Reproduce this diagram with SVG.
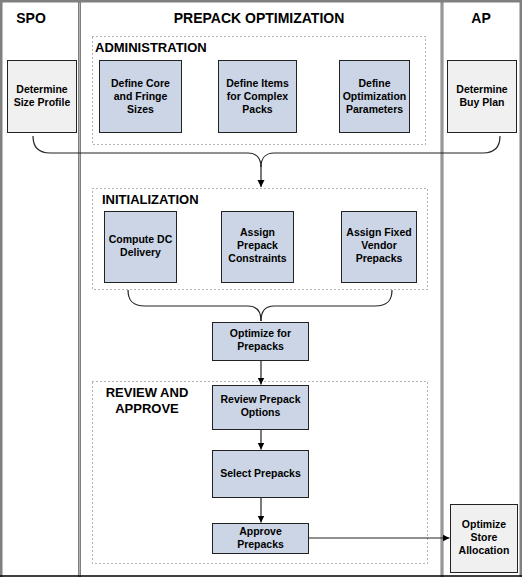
<svg xmlns="http://www.w3.org/2000/svg" width="522" height="577" viewBox="0 0 522 577">
<defs>
<style>
.lane{fill:none;stroke:#808080;stroke-width:3}
.lanec{fill:none;stroke:#b0b0b0;stroke-width:1}
.hdr{font-family:"Liberation Sans",Arial,sans-serif;font-weight:bold;font-size:14px;fill:#000;text-anchor:middle}
.grp{fill:none;stroke:#666;stroke-width:1;stroke-dasharray:1 3}
.glbl{font-family:"Liberation Sans",Arial,sans-serif;font-weight:bold;font-size:13px;fill:#000}
.box{fill:#cbd5e5;stroke:#222;stroke-width:1}
.ext{fill:#f0f0f0;stroke:#222;stroke-width:1}
.t{font-family:"Liberation Sans",Arial,sans-serif;font-weight:bold;font-size:10.5px;fill:#000;text-anchor:middle}
.c{fill:none;stroke:#222;stroke-width:1.2}
</style>
<marker id="arr" markerWidth="8" markerHeight="8" refX="7" refY="4" orient="auto" markerUnits="userSpaceOnUse">
<path d="M0,0.5 L7,4 L0,7.5 z" fill="#000"/>
</marker>
</defs>
<rect x="0" y="0" width="522" height="577" fill="#fff"/>
<g id="lanes">
<line class="lane" x1="1" y1="0" x2="1" y2="577"/>
<line class="lane" x1="0" y1="1" x2="522" y2="1"/>
<line class="lane" x1="521" y1="0" x2="521" y2="577"/>
<line class="lane" x1="79.5" y1="0" x2="79.5" y2="577"/>
<line class="lanec" x1="79.5" y1="3" x2="79.5" y2="576"/>
<line class="lane" x1="442" y1="0" x2="442" y2="577"/>
<line class="lanec" x1="442" y1="3" x2="442" y2="576"/>
<line x1="0" y1="576" x2="522" y2="576" stroke="#000" stroke-width="1.5"/>
<text class="hdr" x="31" y="23">SPO</text>
<text class="hdr" x="259" y="23">PREPACK OPTIMIZATION</text>
<text class="hdr" x="481" y="23">AP</text>
</g>
<g id="grp-admin">
<rect class="grp" x="92.5" y="36.5" width="333" height="108"/>
<text class="glbl" x="95" y="52">ADMINISTRATION</text>
</g>
<g id="grp-init">
<rect class="grp" x="92.5" y="188.5" width="335" height="101"/>
<text class="glbl" x="102" y="204">INITIALIZATION</text>
</g>
<g id="grp-review">
<rect class="grp" x="92.5" y="381.5" width="335" height="182"/>
<text class="glbl" x="147" y="397" text-anchor="middle">REVIEW AND</text>
<text class="glbl" x="147" y="413" text-anchor="middle">APPROVE</text>
</g>
<g id="connectors">
<path class="c" d="M33,136 C33,147 38,153 50,153 L248,153 C256,153 261,158 261,167 L261,187" marker-end="url(#arr)"/>
<path class="c" d="M500,136 C500,147 495,153 483,153 L274,153 C266,153 261,158 261,167"/>
<path class="c" d="M128,290 C128,301 133,306 145,306 L248,306 C256,306 261,311 261,321"/>
<path class="c" d="M392,290 C392,301 387,306 375,306 L274,306 C266,306 261,311 261,321"/>
<line class="c" x1="261" y1="360" x2="261" y2="384.5" marker-end="url(#arr)"/>
<line class="c" x1="261" y1="429" x2="261" y2="449.5" marker-end="url(#arr)"/>
<line class="c" x1="261" y1="497" x2="261" y2="522.5" marker-end="url(#arr)"/>
<line class="c" x1="308" y1="538" x2="449.5" y2="538" marker-end="url(#arr)"/>
</g>
<g id="n-size-profile">
<rect class="ext" x="7.5" y="60.5" width="69" height="72"/>
<text class="t" x="42" y="93">Determine</text>
<text class="t" x="42" y="106">Size Profile</text>
</g>
<g id="n-core-fringe">
<rect class="box" x="99.5" y="60.5" width="82" height="72"/>
<text class="t" x="140.5" y="87">Define Core</text>
<text class="t" x="140.5" y="100">and Fringe</text>
<text class="t" x="140.5" y="113">Sizes</text>
</g>
<g id="n-items">
<rect class="box" x="218.5" y="60.5" width="78" height="72"/>
<text class="t" x="257.5" y="87">Define Items</text>
<text class="t" x="257.5" y="100">for Complex</text>
<text class="t" x="257.5" y="113">Packs</text>
</g>
<g id="n-opt-params">
<rect class="box" x="339.5" y="60.5" width="70" height="72"/>
<text class="t" x="374.5" y="87">Define</text>
<text class="t" x="374.5" y="100">Optimization</text>
<text class="t" x="374.5" y="113">Parameters</text>
</g>
<g id="n-buy-plan">
<rect class="ext" x="447.5" y="60.5" width="69" height="72"/>
<text class="t" x="482" y="93">Determine</text>
<text class="t" x="482" y="106">Buy Plan</text>
</g>
<g id="n-dc-delivery">
<rect class="box" x="104.5" y="211.5" width="72" height="71"/>
<text class="t" x="140.5" y="243">Compute DC</text>
<text class="t" x="140.5" y="256">Delivery</text>
</g>
<g id="n-constraints">
<rect class="box" x="221.5" y="211.5" width="72" height="71"/>
<text class="t" x="257.5" y="236">Assign</text>
<text class="t" x="257.5" y="249">Prepack</text>
<text class="t" x="257.5" y="262">Constraints</text>
</g>
<g id="n-fixed-vendor">
<rect class="box" x="341.5" y="211.5" width="75" height="71"/>
<text class="t" x="379" y="236">Assign Fixed</text>
<text class="t" x="379" y="249">Vendor</text>
<text class="t" x="379" y="262">Prepacks</text>
</g>
<g id="n-optimize">
<rect class="box" x="212.5" y="322.5" width="96" height="38"/>
<text class="t" x="260.5" y="337">Optimize for</text>
<text class="t" x="260.5" y="350">Prepacks</text>
</g>
<g id="n-review">
<rect class="box" x="212.5" y="385.5" width="96" height="44"/>
<text class="t" x="260.5" y="403">Review Prepack</text>
<text class="t" x="260.5" y="416">Options</text>
</g>
<g id="n-select">
<rect class="box" x="212.5" y="450.5" width="96" height="47"/>
<text class="t" x="260.5" y="477">Select Prepacks</text>
</g>
<g id="n-approve">
<rect class="box" x="212.5" y="523.5" width="96" height="30"/>
<text class="t" x="260.5" y="535">Approve</text>
<text class="t" x="260.5" y="548">Prepacks</text>
</g>
<g id="n-store-alloc">
<rect class="ext" x="450.5" y="504.5" width="67" height="68"/>
<text class="t" x="484" y="528">Optimize</text>
<text class="t" x="484" y="541">Store</text>
<text class="t" x="484" y="554">Allocation</text>
</g>
</svg>
